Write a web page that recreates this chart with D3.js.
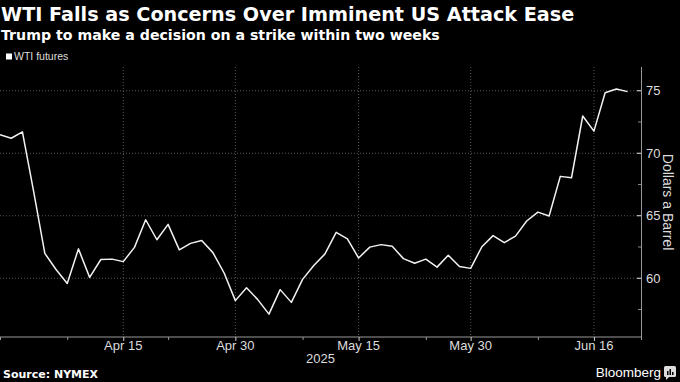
<!DOCTYPE html>
<html>
<head>
<meta charset="utf-8">
<script src="https://cdn.jsdelivr.net/npm/d3@7"></script>
<style>
  html, body { margin: 0; padding: 0; background: #000; }
  svg { display: block; }
</style>
</head>
<body>
<div id="chart"></div>
<script>
// trading days shown on the chart (x axis is by trading day, not calendar day)
const dates = [
    "2025-03-31","2025-04-01","2025-04-02","2025-04-03","2025-04-04","2025-04-07","2025-04-08",
    "2025-04-09","2025-04-10","2025-04-11","2025-04-14","2025-04-15","2025-04-16","2025-04-17",
    "2025-04-21","2025-04-22","2025-04-23","2025-04-24","2025-04-25","2025-04-28","2025-04-29",
    "2025-04-30","2025-05-01","2025-05-02","2025-05-05","2025-05-06","2025-05-07","2025-05-08",
    "2025-05-09","2025-05-12","2025-05-13","2025-05-14","2025-05-15","2025-05-16","2025-05-19",
    "2025-05-20","2025-05-21","2025-05-22","2025-05-23","2025-05-27","2025-05-28","2025-05-29",
    "2025-05-30","2025-06-02","2025-06-03","2025-06-04","2025-06-05","2025-06-06","2025-06-09",
    "2025-06-10","2025-06-11","2025-06-12","2025-06-13","2025-06-16","2025-06-17","2025-06-18",
    "2025-06-20"
];
const wti = [
    71.48, 71.20, 71.71, 66.95, 61.99, 60.70, 59.58,
    62.35, 60.07, 61.50, 61.53, 61.33, 62.47, 64.68,
    63.08, 64.31, 62.27, 62.79, 63.02, 62.05, 60.42,
    58.21, 59.24, 58.29, 57.13, 59.09, 58.07, 59.91,
    61.02, 61.95, 63.67, 63.15, 61.62, 62.49, 62.69,
    62.56, 61.57, 61.20, 61.53, 60.89, 61.84, 60.94,
    60.79, 62.52, 63.41, 62.85, 63.37, 64.58, 65.29,
    64.98, 68.15, 68.04, 72.98, 71.77, 74.84, 75.14,
    74.93
];
const majorTickDates = ["2025-04-15","2025-04-30","2025-05-15","2025-05-30","2025-06-16"];
const minorTickDates = ["2025-03-31","2025-04-08","2025-04-22","2025-05-08","2025-05-23","2025-06-09"];
const yTicks = [60, 65, 70, 75];
const yMinorTicks = [57.5, 62.5, 67.5, 72.5];

const width = 680, height = 382;
const plot = {left: 0, right: 641, top: 67, bottom: 337};
const xEnd = 57.2; // right end of the axis, in trading days

const svg = d3.select("#chart").append("svg")
    .attr("width", width)
    .attr("height", height)
    .style("background", "#000");

const x = d3.scaleLinear().domain([0, xEnd]).range([plot.left, plot.right]);
const y = d3.scaleLinear().domain([55.3, 76.9]).range([plot.bottom, plot.top]);
const idx = d => dates.indexOf(d);
const fmt = d3.timeFormat("%b %-d");
const parse = d3.timeParse("%Y-%m-%d");

// scale a text's font size so it spans the wanted width
function fitWidth(sel, size, target) {
    sel.style("font-size", size + "px");
    let w = sel.node().getComputedTextLength();
    sel.style("font-size", (size * target / w).toFixed(2) + "px");
}

// titles
let title = svg.append("text")
    .attr("x", 1).attr("y", 20.5)
    .attr("fill", "#fff")
    .style("font-family", "'DejaVu Sans', sans-serif")
    .style("font-weight", "bold")
    .text("WTI Falls as Concerns Over Imminent US Attack Ease");
fitWidth(title, 19, 574);
let subtitle = svg.append("text")
    .attr("x", 1).attr("y", 39.5)
    .attr("fill", "#fff")
    .style("font-family", "'DejaVu Sans', sans-serif")
    .style("font-weight", "bold")
    .text("Trump to make a decision on a strike within two weeks");
fitWidth(subtitle, 14, 439);

// legend
svg.append("rect").attr("x", 6).attr("y", 53.5).attr("width", 6).attr("height", 6).attr("fill", "#fff");
svg.append("text")
    .attr("x", 14).attr("y", 60)
    .attr("fill", "#ddd")
    .style("font", "10.5px 'Liberation Sans', sans-serif")
    .text("WTI futures");

// gridlines
svg.append("g").selectAll("line")
    .data(yTicks).enter().append("line")
    .attr("x1", plot.left).attr("x2", plot.right - 4)
    .attr("y1", d => y(d)).attr("y2", d => y(d))
    .attr("stroke", "#555").attr("stroke-width", 1).attr("stroke-dasharray", "1,2");
svg.append("g").selectAll("line")
    .data(majorTickDates).enter().append("line")
    .attr("x1", d => x(idx(d))).attr("x2", d => x(idx(d)))
    .attr("y1", plot.top).attr("y2", plot.bottom)
    .attr("stroke", "#555").attr("stroke-width", 1).attr("stroke-dasharray", "1,2");

// x axis
const xAxis = svg.append("g").attr("transform", `translate(0,${plot.bottom})`);
xAxis.append("line")
    .attr("x1", plot.left).attr("x2", plot.right)
    .attr("stroke", "#999");
xAxis.selectAll(".minor")
    .data(minorTickDates.map(idx).concat([xEnd])).enter().append("line")
    .attr("class", "minor")
    .attr("x1", d => x(d) + 0.5).attr("x2", d => x(d) + 0.5)
    .attr("y1", 0).attr("y2", 3)
    .attr("stroke", "#999");
xAxis.selectAll(".major")
    .data(majorTickDates).enter().append("line")
    .attr("class", "major")
    .attr("x1", d => x(idx(d)) + 0.5).attr("x2", d => x(idx(d)) + 0.5)
    .attr("y1", 0).attr("y2", 4)
    .attr("stroke", "#ccc");
xAxis.selectAll("text")
    .data(majorTickDates).enter().append("text")
    .attr("x", d => x(idx(d)))
    .attr("y", 12.5)
    .attr("text-anchor", "middle")
    .attr("fill", "#ddd")
    .style("font", "13px 'Liberation Sans', sans-serif")
    .text(d => fmt(parse(d)));
svg.append("text")
    .attr("x", (plot.left + plot.right) / 2).attr("y", 363)
    .attr("text-anchor", "middle")
    .attr("fill", "#ddd")
    .style("font", "13px 'Liberation Sans', sans-serif")
    .text("2025");

// y axis (right)
const yAxis = svg.append("g").attr("transform", `translate(${plot.right},0)`);
yAxis.append("line")
    .attr("x1", 0.5).attr("x2", 0.5)
    .attr("y1", plot.top).attr("y2", plot.bottom)
    .attr("stroke", "#999");
yAxis.selectAll(".minor")
    .data(yMinorTicks).enter().append("line")
    .attr("class", "minor")
    .attr("x1", -3).attr("x2", 0)
    .attr("y1", d => y(d)).attr("y2", d => y(d))
    .attr("stroke", "#888");
yAxis.selectAll(".major")
    .data(yTicks).enter().append("line")
    .attr("class", "major")
    .attr("x1", -4).attr("x2", 0)
    .attr("y1", d => y(d)).attr("y2", d => y(d))
    .attr("stroke", "#eee");
yAxis.selectAll("text")
    .data(yTicks).enter().append("text")
    .attr("x", 5)
    .attr("y", d => y(d) + 4.5)
    .attr("fill", "#ddd")
    .style("font", "13px 'Liberation Sans', sans-serif")
    .text(d => d);
svg.append("text")
    .attr("transform", "translate(663,202) rotate(90)")
    .attr("text-anchor", "middle")
    .attr("fill", "#ddd")
    .style("font", "14px 'Liberation Sans', sans-serif")
    .text("Dollars a Barrel");

// the line
const line = d3.line()
    .x((d, i) => x(i))
    .y(d => y(d));
svg.append("path")
    .datum(wti)
    .attr("d", line)
    .attr("fill", "none")
    .attr("stroke", "#f2f2f2")
    .attr("stroke-width", 1.5)
    .attr("stroke-linejoin", "round");

// footer
svg.append("text")
    .attr("x", 3).attr("y", 378)
    .attr("fill", "#fff")
    .style("font", "bold 11px 'DejaVu Sans', sans-serif")
    .text("Source: NYMEX");
svg.append("text")
    .attr("x", 661).attr("y", 377)
    .attr("text-anchor", "end")
    .attr("fill", "#fff")
    .style("font", "13.5px 'Liberation Sans', sans-serif")
    .text("Bloomberg");
const logo = svg.append("g").attr("transform", "translate(664,366)");
logo.append("rect").attr("width", 12).attr("height", 11).attr("rx", 1.5).attr("fill", "#ddd");
logo.append("path").attr("d", "M2,11 L2,14 L5,11 Z").attr("fill", "#ddd");
logo.selectAll(".bar")
    .data([[3, 5], [5.5, 3], [8, 6]]).enter().append("rect")
    .attr("x", d => d[0]).attr("y", d => d[1])
    .attr("width", 1.5).attr("height", d => 9 - d[1])
    .attr("fill", "#000");
</script>
</body>
</html>
